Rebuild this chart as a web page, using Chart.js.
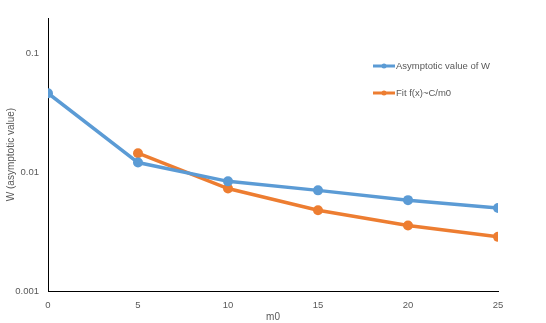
<!DOCTYPE html>
<html lang="en">
<head>
  <meta charset="UTF-8">
  <title>W asymptotic value</title>
  <script src="https://cdn.jsdelivr.net/npm/chart.js@4.4.0/dist/chart.umd.min.js"></script>
  <style>
    html, body { margin: 0; padding: 0; background: #fff; }
    #wrap { width: 546px; height: 323px; position: relative; }
  </style>
</head>
<body>
  <div id="wrap"><canvas id="chart"></canvas></div>

<script>
  // values
  const m0 = [0, 5, 10, 15, 20, 25];
  const asymptotic = [0.0465, 0.0121, 0.0084, 0.00705, 0.00583, 0.0050];
  const fitM0 = [5, 10, 15, 20, 25];
  const fitValues = [0.0145, 0.0073, 0.0048, 0.00357, 0.00286];
  const yTicks = [0.001, 0.01, 0.1];
  const seriesNames = ['Asymptotic value of W', 'Fit f(x)~C/m0'];

  const blue = '#5B9BD5';
  const orange = '#ED7D31';
  const textGrey = '#595959';
  const font = { family: 'Liberation Sans', size: 9.5 };

  // legend drawn on the right inside the plot, like the original
  const sideLegend = {
    id: 'sideLegend',
    afterDraw(chart) {
      const ctx = chart.ctx;
      const x0 = 373, ys = [66, 93];
      ctx.save();
      chart.data.datasets.forEach((ds, i) => {
        const y = ys[i];
        ctx.strokeStyle = ds.borderColor;
        ctx.lineWidth = 3;
        ctx.beginPath();
        ctx.moveTo(x0, y);
        ctx.lineTo(x0 + 22, y);
        ctx.stroke();
        ctx.fillStyle = ds.borderColor;
        ctx.beginPath();
        ctx.arc(x0 + 11, y, 2.5, 0, Math.PI * 2);
        ctx.fill();
        ctx.fillStyle = textGrey;
        ctx.font = '9.5px "Liberation Sans"';
        ctx.textBaseline = 'middle';
        ctx.fillText(ds.label, x0 + 23, y);
      });
      ctx.restore();
    }
  };

  new Chart(document.getElementById('chart'), {
    type: 'line',
    data: {
      datasets: [{
        label: seriesNames[0],
        data: m0.map((x, i) => ({ x: x, y: asymptotic[i] })),
        borderColor: blue,
        backgroundColor: blue,
        borderWidth: 3.5,
        pointRadius: 5,
        pointBorderWidth: 0,
        pointHoverRadius: 5,
        tension: 0
      }, {
        label: seriesNames[1],
        data: fitM0.map((x, i) => ({ x: x, y: fitValues[i] })),
        borderColor: orange,
        backgroundColor: orange,
        borderWidth: 3.5,
        pointRadius: 5,
        pointBorderWidth: 0,
        pointHoverRadius: 5,
        tension: 0
      }]
    },
    options: {
      responsive: true,
      maintainAspectRatio: false,
      animation: false,
      layout: { padding: { top: 18, right: 48, left: 5, bottom: 0 } },
      plugins: {
        legend: { display: false },
        tooltip: { enabled: false }
      },
      scales: {
        x: {
          type: 'linear',
          min: 0,
          max: 25,
          grid: { display: false, drawTicks: false },
          border: { color: '#000', width: 1 },
          ticks: { stepSize: 5, color: textGrey, font: font, padding: 9 },
          title: { display: true, text: 'm0', color: textGrey, font: { family: 'Liberation Sans', size: 10 }, padding: 0 },
          afterFit(scale) { scale.height = 32; }
        },
        y: {
          type: 'logarithmic',
          min: 0.001,
          max: 0.2,
          grid: { display: false, drawTicks: false },
          border: { color: '#000', width: 1 },
          afterBuildTicks(scale) { scale.ticks = yTicks.map(v => ({ value: v })); },
          ticks: {
            color: textGrey,
            font: font,
            padding: 9,
            callback: v => String(v)
          },
          title: { display: true, text: 'W (asymptotic value)', color: textGrey, font: { family: 'Liberation Sans', size: 10 }, padding: 0 },
          afterFit(scale) { scale.width = 43; }
        }
      }
    },
    plugins: [sideLegend]
  });
</script>
</body>
</html>
